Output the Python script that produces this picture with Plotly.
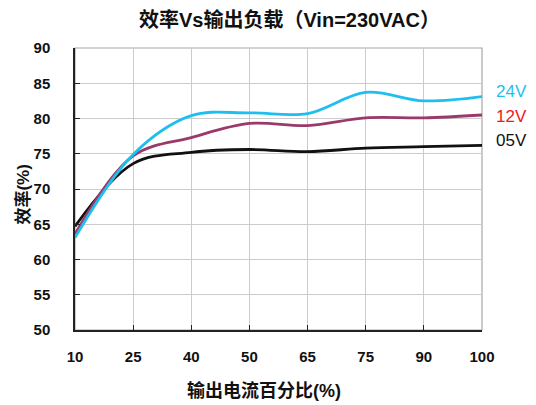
import plotly.graph_objects as go

categories = ["10", "25", "40", "50", "65", "75", "90", "100"]
v24 = [63.1, 74.9, 80.4, 80.8, 80.7, 83.7, 82.5, 83.1]
v12 = [63.6, 74.7, 77.3, 79.3, 79.0, 80.1, 80.1, 80.5]
v05 = [64.7, 73.6, 75.2, 75.6, 75.3, 75.8, 76.0, 76.2]
series = [("24V", v24, "#1EBFEF", "#1EBFEF", 83.9),
          ("12V", v12, "#9A3A6A", "#F01818", 80.3),
          ("05V", v05, "#111111", "#111111", 76.9)]
yticks = [50, 55, 60, 65, 70, 75, 80, 85, 90]

FONT = "Liberation Sans, Arial, Noto Sans CJK SC, sans-serif"

fig = go.Figure()
for name, vals, col, lcol, ly in series[::-1]:
    fig.add_trace(go.Scatter(x=categories, y=vals, mode="lines", name=name,
                             line=dict(color=col, width=2.8, shape="spline", smoothing=1.0),
                             showlegend=False, hoverinfo="skip", cliponaxis=False))

annotations = []
for name, vals, col, lcol, ly in series:
    annotations.append(dict(text=name, xref="paper", yref="y", x=1.03, y=ly,
                            xanchor="left", yanchor="middle", showarrow=False,
                            font=dict(family=FONT, size=17, color=lcol)))
annotations.append(dict(text="<b>输出电流百分比(%)</b>", xref="paper", yref="paper",
                        x=0.465, y=-0.215, xanchor="center", yanchor="middle", showarrow=False,
                        font=dict(family=FONT, size=18, color="#111111")))
annotations.append(dict(text="<b>效率(%)</b>", xref="paper", yref="paper", textangle=-90,
                        x=-0.128, y=0.48, xanchor="center", yanchor="middle", showarrow=False,
                        font=dict(family=FONT, size=17, color="#111111")))

fig.update_layout(
    width=536, height=405,
    margin=dict(l=75, r=54, t=48, b=75, autoexpand=False),
    paper_bgcolor="white", plot_bgcolor="white",
    title=dict(text="<b>效率Vs输出负载（Vin=230VAC）</b>", x=0.54, xanchor="center",
               y=0.95, yanchor="middle",
               font=dict(family=FONT, size=20, color="#111111")),
    annotations=annotations,
    shapes=[dict(type="rect", xref="paper", yref="paper", x0=0, x1=1, y0=0, y1=1,
                 line=dict(color="#A8A8A8", width=1.2), layer="below")],
    xaxis=dict(type="category", range=[0, 7], categoryorder="array", categoryarray=categories,
               automargin=False,
               showgrid=True, gridcolor="#CCCCCC", gridwidth=1.2,
               showline=True, linecolor="#222222", linewidth=1.5,
               ticks="inside", ticklen=5, tickcolor="#222222",
               ticklabelstandoff=12,
               tickfont=dict(family=FONT, size=15, color="#111111", weight="bold")),
    yaxis=dict(range=[50, 90], tickvals=yticks, ticktext=[str(t) for t in yticks],
               automargin=False,
               showgrid=True, gridcolor="#CCCCCC", gridwidth=1.2,
               showline=True, linecolor="#222222", linewidth=1.5,
               ticks="inside", ticklen=5, tickcolor="#222222",
               ticklabelstandoff=20,
               tickfont=dict(family=FONT, size=15, color="#111111", weight="bold")),
)

fig.write_html("out.html", config={"displayModeBar": False},
               post_script="document.body.style.margin='0';document.body.style.overflow='hidden';")
